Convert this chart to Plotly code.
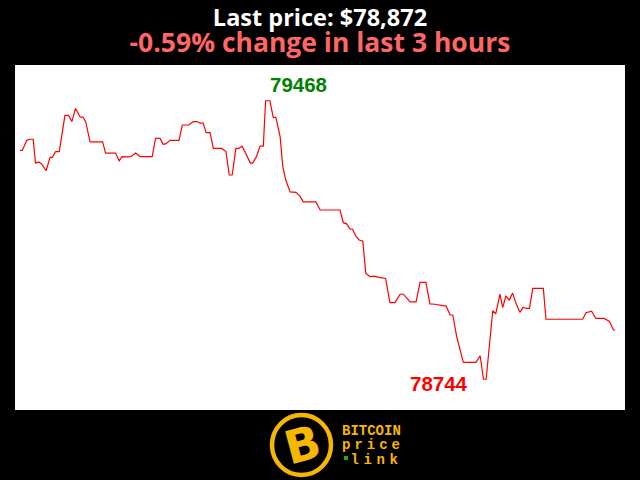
import plotly.graph_objects as go

# time in minutes over the last 3 hours
minutes = [0, 0.7, 2.0, 2.7, 4.0, 4.7, 5.7, 6.6, 7.9, 9.1, 9.8, 10.8, 11.9, 13.6, 14.7, 15.7, 16.8, 18.2, 19.1, 19.9,
           21.2, 25.0, 25.9, 28.9, 30.0, 30.9, 33.1, 33.6, 35.0, 36.3, 40.0, 41.0, 42.4, 43.3, 44.1, 45.4, 48.1, 49.1,
           51.1, 52.4, 53.5, 54.5, 55.4, 56.3, 57.5, 58.5, 61.0, 62.3, 63.3, 64.2, 65.3, 66.2, 67.2, 68.6, 69.7, 70.4,
           71.5, 72.6, 73.6, 74.3, 75.6, 76.6, 77.4, 78.7, 79.5, 80.4, 81.7, 83.5, 84.7, 85.7, 89.5, 90.8, 96.8, 97.8,
           98.8, 99.8, 100.6, 101.6, 102.6, 103.7, 104.6, 105.9, 107.1, 108.6, 110.6, 111.9, 113.4, 115.0, 116.0, 118.0,
           119.8, 121.0, 122.8, 124.0, 125.5, 128.9, 130.1, 130.9, 132.1, 134.1, 137.9, 139.2, 140.2, 141.0, 142.2,
           143.0, 143.9, 145.2, 146.0, 147.0, 148.0, 149.0, 150.0, 151.2, 152.2, 153.1, 154.1, 155.1, 158.3, 159.1,
           170.2, 171.2, 172.9, 174.2, 176.7, 178.3, 179.5, 180.0]
prices = [79339, 79339, 79364, 79368, 79368, 79306, 79309, 79303, 79286, 79321, 79321, 79336, 79336, 79430, 79430,
          79414, 79448, 79426, 79425, 79413, 79361, 79361, 79332, 79332, 79312, 79323, 79322, 79323, 79332, 79323,
          79323, 79370, 79370, 79355, 79356, 79365, 79365, 79405, 79405, 79414, 79414, 79410, 79410, 79385, 79385,
          79344, 79344, 79336, 79275, 79275, 79344, 79344, 79350, 79324, 79306, 79306, 79322, 79350, 79350, 79468,
          79468, 79425, 79425, 79374, 79296, 79262, 79231, 79230, 79220, 79205, 79205, 79184, 79184, 79151, 79148,
          79135, 79134, 79116, 79106, 79103, 79019, 79011, 79012, 79009, 79006, 78943, 78943, 78965, 78965, 78945,
          78945, 78996, 78996, 78940, 78939, 78934, 78911, 78911, 78855, 78788, 78788, 78805, 78744, 78744, 78855,
          78922, 78914, 78965, 78930, 78961, 78950, 78968, 78942, 78918, 78931, 78928, 78928, 78980, 78980, 78900,
          78900, 78917, 78921, 78902, 78902, 78894, 78872, 78872]

title_line1 = "Last price: $78,872"
title_line2 = "-0.59% change in last 3 hours"
logo_lines = ["BITCOIN", "price", "link"]

hi = max(prices)
lo = min(prices)
hi_i = prices.index(hi)
lo_i = len(prices) - 1 - prices[::-1].index(lo)

fig = go.Figure()
fig.add_trace(go.Scatter(x=minutes, y=prices, mode="lines",
                         line=dict(color="#ff0000", width=1.2), hoverinfo="skip"))

fig.add_annotation(x=(minutes[hi_i] + minutes[hi_i + 1]) / 2, y=hi, text=f"<b>{hi}</b>", showarrow=False,
                   xshift=31, yshift=16, font=dict(family="Liberation Sans", size=20.5, color="#008000"))
fig.add_annotation(x=(minutes[lo_i] + minutes[lo_i - 1]) / 2, y=lo, text=f"<b>{lo}</b>", showarrow=False,
                   xshift=-46, yshift=-4, font=dict(family="Liberation Sans", size=20.5, color="#ff0000"))


def py2paper(py):
    return (410 - py) / 345


def px2paper(px):
    return (px - 15) / 610


# logo
gold = "#f5b700"
fig.add_shape(type="circle", xref="paper", yref="paper",
              x0=px2paper(272), x1=px2paper(331), y0=py2paper(475), y1=py2paper(415),
              line=dict(color=gold, width=4.5), fillcolor="black")
fig.add_annotation(xref="paper", yref="paper", x=px2paper(302), y=py2paper(445), text="<b>B</b>",
                   showarrow=False, textangle=-15, xanchor="center", yanchor="middle",
                   font=dict(family="DejaVu Sans", size=46, color=gold))
logo_text = (f"<b><span style='font-size:14px'>{logo_lines[0]}</span><br>"
             f"<span style='font-size:14px;letter-spacing:4px'>{logo_lines[1]}</span><br>"
             f"<span style='font-size:14px'>&nbsp;</span>"
             f"<span style='font-size:14px;letter-spacing:4.6px'>{logo_lines[2]}</span></b>")
fig.add_annotation(xref="paper", yref="paper", x=px2paper(340), y=py2paper(445), text=logo_text,
                   showarrow=False, xanchor="left", yanchor="middle", align="left",
                   font=dict(family="Liberation Mono", size=11, color=gold))
fig.add_shape(type="rect", xref="paper", yref="paper",
              x0=px2paper(344), x1=px2paper(348), y0=py2paper(460), y1=py2paper(456),
              line=dict(width=0), fillcolor="#22aa22")

fig.update_layout(
    width=640, height=480,
    paper_bgcolor="black", plot_bgcolor="white",
    margin=dict(l=15, r=15, t=65, b=70),
    showlegend=False,
    title=dict(
        text=(f"<b><span style='font-size:23.5px'>{title_line1}</span></b><br>"
              f"<b><span style='font-size:26.5px;color:#ff6666'>{title_line2}</span></b>"),
        x=0.5, xanchor="center", xref="paper",
        y=1 - 26 / 480, yanchor="top", yref="container",
        font=dict(family="Open Sans", size=20, color="#ffffff"),
    ),
    xaxis=dict(visible=False, range=[-1.5, 183.0], fixedrange=True),
    yaxis=dict(visible=False, range=[78664, 79561], fixedrange=True),
)

fig.write_html("out.html", config={"displayModeBar": False},
               post_script="document.body.style.margin='0';document.body.style.background='black';")
